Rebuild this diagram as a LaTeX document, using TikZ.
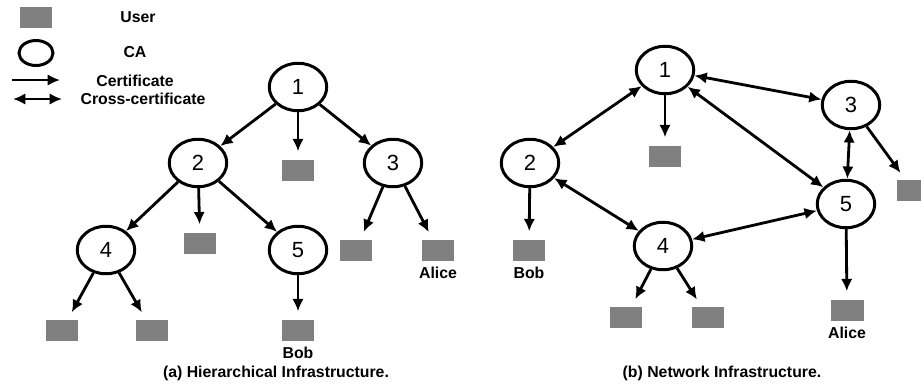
\documentclass[tikz,border=0pt]{standalone}
\usepackage{fontspec}
\setmainfont{Liberation Sans}
\usetikzlibrary{shapes.geometric,arrows.meta,positioning}

\begin{document}
\begin{tikzpicture}[x=0.02cm,y=-0.02cm,
  ca/.style={draw,ellipse,line width=1.7pt,minimum width=1.15cm,minimum height=0.95cm,
    inner sep=0pt,font=\fontsize{12.5}{14}\selectfont},
  user/.style={fill=black!50,minimum width=0.66cm,minimum height=0.42cm,inner sep=0pt},
  lbl/.style={font=\bfseries\fontsize{9}{11}\selectfont},
  capt/.style={font=\bfseries\fontsize{9}{11}\selectfont},
  cert/.style={line width=1.6pt,-{Latex[length=7pt,width=6.5pt]}},
  cross/.style={line width=1.6pt,{Latex[length=7pt,width=6.5pt]}-{Latex[length=7pt,width=6.5pt]}},
  tousr/.style={cert,shorten >=4.5pt}]
  \useasboundingbox (0,0) rectangle (921,383);

  % legend
  \node[user] (lu) at (36,17) {};
  \node[lbl] (lut) at (138,17) {User};
  \node[draw,ellipse,line width=1.7pt,minimum width=0.68cm,minimum height=0.5cm] (lca) at (36,53) {};
  \node[lbl] (lcat) at (135,52) {CA};
  \coordinate (c1) at (12,80);
  \coordinate (c2) at (60,80);
  \draw[cert] (c1) -- (c2);
  \node[lbl] (lct) at (135,81) {Certificate};
  \coordinate (x1) at (13,99);
  \coordinate (x2) at (62,99);
  \draw[cross] (x1) -- (x2);
  \node[lbl] (lxt) at (143,99) {Cross-certificate};

  % (a) hierarchy
  \node[ca] (a1) at (298,87) {1};
  \node[ca] (a2) at (198,163) {2};
  \node[ca] (a3) at (393,163) {3};
  \node[ca] (a4) at (106,250) {4};
  \node[ca] (a5) at (298,250) {5};
  \node[user] (ua1) at (298,170) {};
  \node[user] (ua2) at (200,243) {};
  \node[user] (ua3) at (356,250) {};
  \node[user] (ua4) at (438,250) {};
  \node[user] (ua5) at (62,330) {};
  \node[user] (ua6) at (152,330) {};
  \node[user] (ua7) at (298,330) {};
  \node[lbl,below=0pt of ua4] (alicea) {Alice};
  \node[lbl,below=0pt of ua7] (boba) {Bob};
  \draw[cert] (a1) -- (a2);
  \draw[cert] (a1) -- (a3);
  \draw[tousr] (a1) -- (ua1);
  \draw[cert] (a2) -- (a4);
  \draw[cert] (a2) -- (a5);
  \draw[tousr] (a2) -- (ua2);
  \draw[tousr] (a3) -- (ua3);
  \draw[tousr] (a3) -- (ua4);
  \draw[tousr] (a4) -- (ua5);
  \draw[tousr] (a4) -- (ua6);
  \draw[tousr] (a5) -- (ua7);
  \node[capt] (capa) at (276,373) {(a) Hierarchical Infrastructure.};

  % (b) network
  \node[ca] (b1) at (665,70) {1};
  \node[ca] (b2) at (530,163) {2};
  \node[ca] (b3) at (851,105) {3};
  \node[ca] (b4) at (663,246) {4};
  \node[ca] (b5) at (846,204) {5};
  \node[user] (ub1) at (665,156) {};
  \node[user] (ub2) at (529,250) {};
  \node[user] (ub3) at (913,190) {};
  \node[user] (ub4) at (626,317) {};
  \node[user] (ub5) at (708,317) {};
  \node[user] (ub6) at (847,310) {};
  \node[lbl,below=0pt of ub2] (bobb) {Bob};
  \node[lbl,below=0pt of ub6] (aliceb) {Alice};
  \draw[cross] (b1) -- (b2);
  \draw[cross] (b1) -- (b3);
  \draw[cross] (b1) -- (b5);
  \draw[cross] (b3) -- (b5);
  \draw[cross] (b2) -- (b4);
  \draw[cross] (b4) -- (b5);
  \draw[tousr] (b1) -- (ub1);
  \draw[tousr] (b2) -- (ub2);
  \draw[tousr] (b3) -- (ub3);
  \draw[tousr] (b4) -- (ub4);
  \draw[tousr] (b4) -- (ub5);
  \draw[tousr] (b5) -- (ub6);
  \node[capt] (capb) at (722,373) {(b) Network Infrastructure.};
\end{tikzpicture}
\end{document}
